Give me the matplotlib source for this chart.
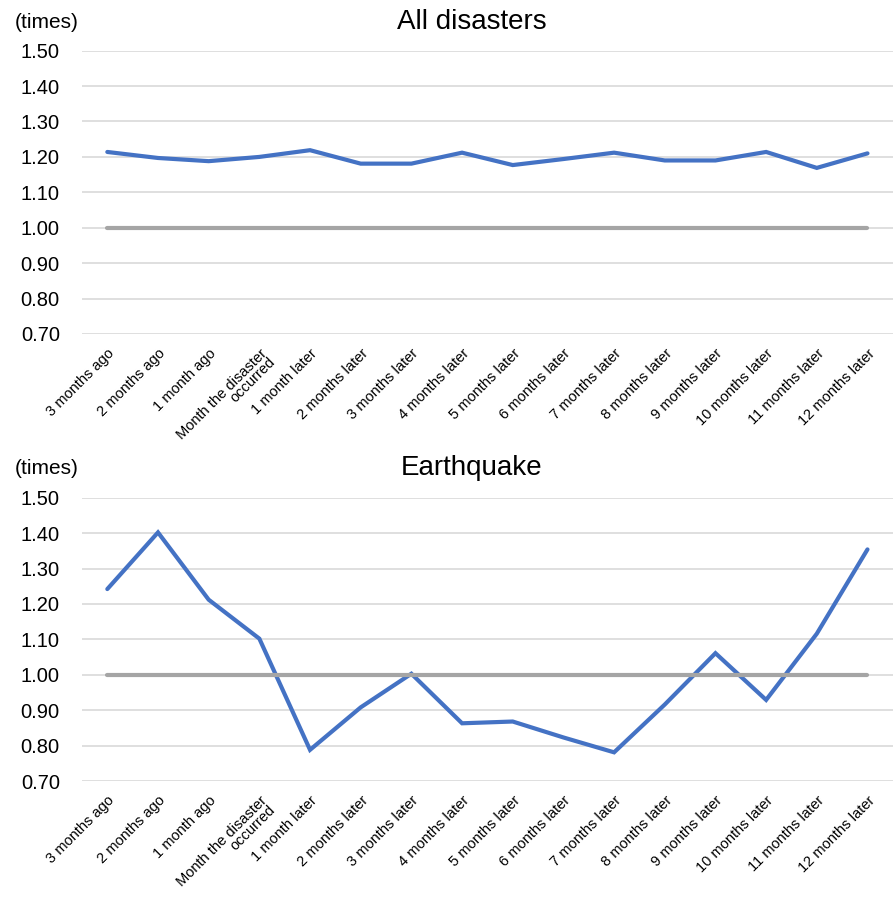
import matplotlib.pyplot as plt

plt.rcParams['font.family'] = ['Liberation Sans', 'DejaVu Sans']

months = ["3 months ago", "2 months ago", "1 month ago", "Month the disaster\noccurred",
          "1 month later", "2 months later", "3 months later", "4 months later",
          "5 months later", "6 months later", "7 months later", "8 months later",
          "9 months later", "10 months later", "11 months later", "12 months later"]

all_disasters = [1.214, 1.197, 1.188, 1.200, 1.219, 1.181, 1.181, 1.212,
                 1.177, 1.194, 1.212, 1.190, 1.190, 1.214, 1.169, 1.210]
earthquake = [1.242, 1.402, 1.212, 1.102, 0.788, 0.908, 1.003, 0.863,
              0.868, 0.823, 0.781, 0.916, 1.061, 0.929, 1.116, 1.354]
baseline = [1.0] * len(months)

yticks = [0.70, 0.80, 0.90, 1.00, 1.10, 1.20, 1.30, 1.40, 1.50]

BLUE = '#4472C4'
GRAY = '#A5A5A5'
GRID = '#D9D9D9'

fig = plt.figure(figsize=(8.93, 9.0), dpi=100)
ax1 = fig.add_axes([0.0918, 0.6289, 0.908, 0.3148])
ax2 = fig.add_axes([0.0918, 0.1322, 0.908, 0.3148])


def draw(ax, vals, title, ytop):
    x = list(range(len(months)))
    ax.plot(x, vals, color=BLUE, lw=3.0, solid_capstyle='round', solid_joinstyle='miter', zorder=3)
    ax.plot(x, baseline, color=GRAY, lw=3.0, solid_capstyle='round', zorder=4)
    ax.set_xlim(-0.5, len(months) - 0.5)
    ax.set_ylim(0.7, 1.5)
    ax.set_yticks(yticks)
    ax.set_yticklabels(["%.2f" % v for v in yticks], fontsize=14.5)
    ax.set_xticks(x)
    ax.set_xticklabels(months, rotation=45, ha='right', rotation_mode='anchor',
                       fontsize=10.5, linespacing=0.85)
    ax.tick_params(axis='x', length=0, pad=9)
    ax.tick_params(axis='y', length=0, pad=16)
    for s in ax.spines.values():
        s.set_visible(False)
    ax.grid(axis='y', color=GRID, lw=1.2, zorder=0)
    ax.set_axisbelow(True)
    fig.text(0.0526, ytop, "(times)", fontsize=15, ha='center', va='center')
    fig.text(0.5286, ytop, title, fontsize=20, ha='center', va='center')


draw(ax1, all_disasters, "All disasters", 1 - 22 / 900)
draw(ax2, earthquake, "Earthquake", 1 - 468 / 900)

fig.savefig("out.png", dpi=100)
